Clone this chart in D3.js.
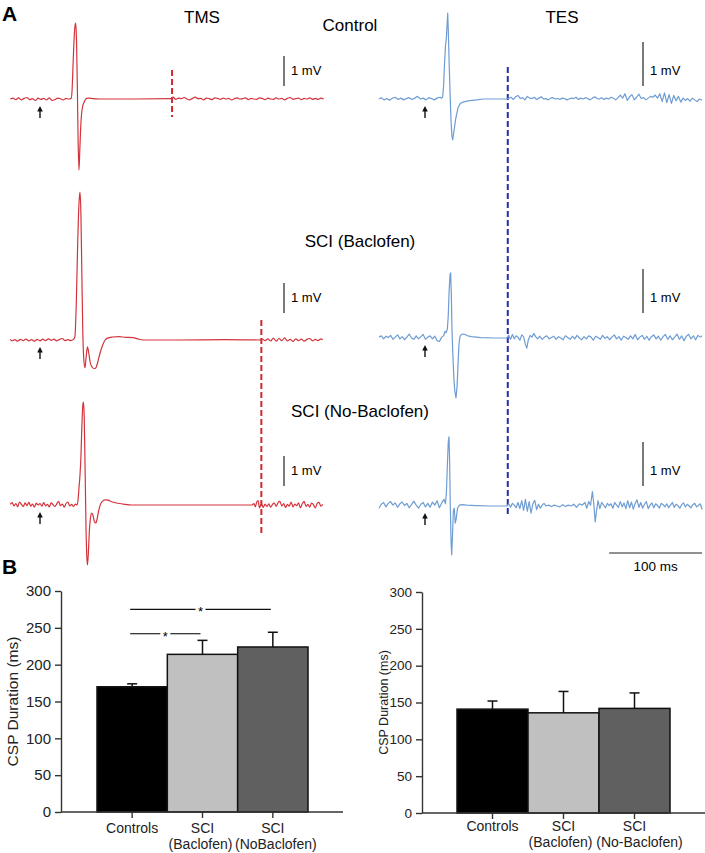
<!DOCTYPE html>
<html><head><meta charset="utf-8">
<script src="https://cdn.jsdelivr.net/npm/d3@7"></script>
<style>body{margin:0;background:#fff}svg{display:block;font-family:"Liberation Sans",Arial,sans-serif}</style>
</head><body><svg id="c" width="705" height="853"></svg>
<script>
// ---------- DATA ----------
// EMG traces: [time (ms, relative to stimulus), amplitude (mV)]
const tmsControl = [[-32,0],[-29,0.03],[-26,-0.02],[-23,0.04],[-20,-0.03],[-17,0.02],[-14,0.05],[-11,-0.02],[-8,0.01],[-5,-0.05],[-2,0.03],[1,-0.01],[4,0.02],[7,-0.03],[10,0.04],[13,-0.05],[16,-0.02],[19,0.03],[22,0.01],[25,-0.03],[28,0.02],[31,0],[33.5,0.02],
 [34.5,0.3],[35.5,1.1],[36.5,1.9],[37.5,2.4],[38.4,2.53],[39.3,1.9],[40.2,0.3],[41,-1.4],[41.9,-2.37],[42.8,-1.7],[44,-0.8],[45.5,-0.3],[47.5,-0.1],[50,0.02],[53,0.03],[57,0.01],[64,0],[100,0],[141,0.01],
 [143,0.06],[146,-0.01],[149,0.03],[152,0.01],[155,0.05],[158,0],[161,-0.03],[164,0.02],[167,0.06],[170,0.01],[173,0.02],[176,-0.03],[179,0.03],[182,0.01],[185,-0.02],[188,0.04],[191,0.02],[194,-0.01],[197,0.03],[200,0],[203,0.02],[206,-0.03],[209,0.01],[212,0.04],[215,0],[218,0.01],[221,0.04],[224,-0.02],[227,0.02],[230,0],[233,-0.01],[236,0.04],[239,0.02],[242,-0.02],[245,0.03],[248,0],[251,-0.01],[254,0.04],[257,0],[260,0.02],[263,-0.03],[266,0.02],[269,0.05],[272,-0.01],[275,0.01],[278,0.03],[281,-0.02],[284,0.02],[287,0],[290,0.04],[293,-0.01],[296,0.02],[299,-0.01],[302,0.03],[305,0]];

const tmsBaclofen = [[-32,0.02],[-30,-0.03],[-27,0.01],[-24,-0.04],[-21,0.02],[-18,-0.02],[-15,0.03],[-12,-0.03],[-9,0.01],[-6,-0.04],[-3,0.02],[0,-0.03],[3,0.03],[6,-0.02],[9,0.04],[12,-0.01],[15,0.03],[18,-0.03],[21,0.02],[24,0.05],[27,-0.02],[30,0.01],[33,-0.02],[36,0.02],
 [37.5,0.1],[39,1.2],[40.5,3.2],[42,4.6],[43,4.93],[44,4.2],[45,2.2],[46,0.3],[47,-0.6],[48.4,-0.93],[49.5,-0.6],[51,-0.23],[52.5,-0.45],[54,-0.75],[56,-0.9],[58,-0.95],[60,-0.93],[62,-0.75],[64,-0.5],[67,-0.2],[70,0],[74,0.08],[78,0.1],[85,0.11],[92,0.09],[100,0.08],[105,0.04],[111,0],[150,0],[200,0.01],[236,0],
 [239,0.03],[242,-0.02],[245,0.04],[248,-0.03],[251,0.06],[254,-0.04],[257,0.05],[260,-0.02],[263,0.07],[266,-0.03],[269,0.02],[272,-0.05],[275,0.04],[278,-0.02],[281,0.03],[284,-0.04],[287,0.02],[290,0.05],[293,-0.03],[296,0.02],[299,-0.02],[302,0.04],[304,0.01]];

const tmsNoBaclofen = [[-32,0.02],[-30,0.08],[-28,-0.03],[-26,0.05],[-24,-0.06],[-22,0.1],[-20,0.02],[-18,-0.05],[-16,0.07],[-14,-0.02],[-12,0.09],[-10,-0.04],[-8,0.03],[-6,-0.07],[-4,0.06],[-2,0],[0,0.05],[2,-0.04],[4,0.08],[6,-0.03],[8,0.02],[10,-0.06],[12,0.07],[14,0.01],[16,-0.05],[18,0.04],[20,0.12],[22,-0.02],[24,0.03],[26,-0.07],[28,0.05],[30,0.1],[32,-0.03],[34,0.02],[36,-0.05],[38,0.03],[40,0],
 [41,0.2],[42,0.6],[43,1.0],[44,1.6],[45,2.6],[46,3.3],[46.7,3.43],[47.5,3.0],[48.5,1.2],[49.5,-0.8],[50.3,-1.7],[51,-2.0],[52,-1.6],[53,-0.9],[54,-0.5],[55.6,-0.27],[57,-0.35],[58.5,-0.55],[60,-0.6],[61.5,-0.45],[63,-0.2],[65,0.02],[67,0.12],[70,0.17],[73,0.16],[78,0.1],[85,0.05],[92,0.02],[98,0],[150,0],[200,0],[228,0],
 [230,0.05],[231.5,-0.06],[233,0.1],[234.5,0.15],[236,-0.1],[238,0.05],[240,-0.08],[242,0.03],[244,-0.05],[246,0.04],[248,-0.07],[250,0.02],[252,0.06],[254,-0.04],[256,0.08],[258,0.12],[260,-0.03],[262,0.05],[264,-0.08],[266,0.02],[268,-0.04],[270,0.1],[272,-0.06],[274,0.03],[276,-0.02],[278,0.07],[280,-0.09],[282,0.04],[284,0.12],[286,-0.05],[288,0.02],[290,-0.07],[292,0.06],[294,0.01],[296,-0.1],[298,0.05],[300,0.09],[302,-0.04],[304,0.02]];

const tesControl = [[-49.5,0],[-47,0.03],[-44,-0.02],[-41,0.01],[-38,-0.03],[-35,0.02],[-32,0.04],[-29,-0.01],[-26,0.02],[-23,-0.02],[-20,0.01],[-17,0.03],[-14,-0.01],[-11,0.02],[-8,0.06],[-5,0],[-2,0.02],[1,-0.02],[4,0.03],[7,0.01],[10,-0.02],[13,0.02],[16,0.04],[18,0.02],
 [19,0.05],[20,0.3],[21,0.8],[22,1.2],[23,1.4],[23.8,1.7],[24.4,1.95],[25,1.6],[26,0.8],[27,0.1],[28,-0.5],[29,-0.85],[29.8,-0.93],[31,-0.75],[33,-0.45],[35.5,-0.2],[38,-0.1],[41,-0.07],[45,-0.05],[50,-0.03],[56,-0.02],[62,0],[75,0],[88,0],
 [90,0.02],[92.5,0.04],[95,-0.01],[97.5,0.05],[100,0.08],[102.5,0.01],[105,0.03],[107.5,-0.02],[110,0.06],[112.5,0.02],[115,0.01],[117.5,0.04],[120,-0.01],[122.5,0.02],[125,0.05],[127.5,0],[130,0.01],[132.5,-0.02],[135,0.02],[137.5,0.03],[140,0],[142.5,0.01],[145,-0.01],[147.5,0.02],[150,0.01],[152.5,-0.02],[155,0],[157.5,0.02],[160,0.01],[162.5,0.04],[165,-0.01],[167.5,0.02],[170,0],[172.5,0.03],[175,0.01],[177.5,-0.02],[180,0.02],[182.5,0.05],[185,0.01],[187.5,0],[190,0.03],[192.5,-0.01],[195,0.02],[197.5,0],[200,0.04],[202.5,0.02],[205,-0.02],[207.5,0.03],[210,0.09],[212.5,0.02],[215,0.12],[217.5,-0.03],[220,0.05],[222.5,0.1],[225,-0.02],[227.5,0.04],[230,0.11],[232.5,0.01],[235,0.03],[237.5,-0.02],[240,0.02],[242.5,0.06],[245,0.04],[247.5,0.09],[250,0.02],[252.5,0.12],[255,-0.06],[257.5,0.14],[260,-0.08],[262.5,0.1],[265,-0.1],[267.5,0.08],[270,-0.04],[272.5,0.06],[275,-0.07],[277.5,0.02],[280,-0.03],[282.5,0.01],[285,-0.05],[287.5,0.02],[290,-0.02],[292.5,-0.06],[295,0],[298,-0.03]];

const tesBaclofen = [[-49.5,0.02],[-47,0.05],[-44.5,-0.02],[-42,0.04],[-39.5,0.01],[-37,0.06],[-34.5,-0.03],[-32,0.02],[-29.5,0.07],[-27,-0.02],[-24.5,0.03],[-22,-0.04],[-19.5,0.02],[-17,0.09],[-14.5,0],[-12,-0.03],[-9.5,0.05],[-7,-0.02],[-4.5,0.03],[-2,0.08],[0.5,-0.03],[3,0.02],[5.5,0.05],[8,-0.02],[10.5,0.04],[13,-0.06],[15.5,-0.08],[18,0.02],[20,0.05],[21.5,0.15],
 [22.5,0.12],[24,0.2],[25,0.5],[26,1.1],[27,1.45],[27.6,1.48],[28.3,1.0],[29,0.2],[30,-0.4],[31,-0.9],[32,-1.2],[33.3,-1.36],[34.5,-1.1],[35.5,-0.6],[36.5,-0.15],[37.6,0.03],[39,0.08],[41,0.09],[43,0.08],[46,0.05],[50,0.03],[60,0.01],[75,0],[88,0],
 [90,0.06],[92,-0.03],[94,0.08],[96,-0.02],[98,0.05],[100,0.02],[102,-0.05],[104,0.07],[106,0.03],[108,-0.15],[109.5,-0.23],[111,-0.05],[113,0.06],[115,0.02],[117,0.1],[119,0.03],[121,-0.02],[123.5,0.04],[126,-0.03],[128.5,0.02],[131,0.05],[133.5,-0.02],[136,0.01],[138.5,0.04],[141,-0.03],[143.5,0.03],[146,0],[148.5,-0.04],[151,0.05],[153.5,0.01],[156,-0.03],[158.5,0.04],[161,-0.02],[163.5,0.06],[166,0],[168.5,-0.04],[171,0.03],[173.5,-0.02],[176,0.05],[178.5,0.02],[181,-0.05],[183.5,0.04],[186,0.01],[188.5,-0.03],[191,0.06],[193.5,-0.01],[196,0.03],[198.5,-0.04],[201,0.02],[203.5,0.07],[206,-0.02],[208.5,0.03],[211,-0.05],[213.5,0.04],[216,0.01],[218.5,-0.03],[221,0.05],[223.5,-0.02],[226,0.08],[228.5,-0.04],[231,0.02],[233.5,0.06],[236,-0.03],[238.5,0.04],[241,-0.05],[243.5,0.03],[246,0.07],[248.5,-0.02],[251,0.04],[253.5,-0.05],[256,0.03],[258.5,0.08],[261,-0.03],[263.5,0.05],[266,-0.04],[268.5,0.02],[271,0.09],[273.5,-0.03],[276,0.05],[278.5,-0.06],[281,0.04],[283.5,0.08],[286,-0.02],[288.5,0.05],[291,-0.04],[293.5,0.06],[296,0.02],[298,0.05]];

const tesNoBaclofen = [[-49.5,-0.05],[-47,0.04],[-44.5,0.08],[-42,-0.02],[-39.5,0.06],[-37,0.1],[-34.5,0.02],[-32,0.07],[-29.5,-0.03],[-27,0.05],[-24.5,0.09],[-22,0.01],[-19.5,0.06],[-17,-0.04],[-14.5,0.03],[-12,0.11],[-9.5,0.02],[-7,-0.05],[-4.5,0.04],[-2,0.08],[0.5,-0.02],[3,0.06],[5.5,-0.03],[8,0.09],[10.5,0.02],[13,0.12],[15.5,-0.04],[18,0.07],[20.5,0.15],[22,0.05],
 [23,0.3],[24,0.9],[25,1.45],[25.8,1.57],[26.5,1.0],[27.2,0],[28,-0.8],[28.7,-1.11],[29.5,-0.7],[30.5,-0.1],[31.5,-0.05],[32.5,-0.39],[33.5,-0.3],[35,-0.05],[37,0.02],[40,0.03],[45,0.02],[55,0.01],[70,0],[88,0],
 [90,0.05],[92,-0.03],[94,0.06],[96,0.02],[98,-0.04],[100,0.08],[102,-0.06],[104,0.12],[106,-0.1],[108,0.15],[110,-0.12],[112,0.1],[114,-0.16],[116,0.05],[118,0.13],[120,-0.08],[122,0.04],[124,-0.05],[126,0.02],[128,0.06],[130,0],[133,0.02],[136,-0.01],[139,0.02],[142,0],[145,-0.02],[148,0.03],[151,-0.01],[154,0.02],[157,0],[160,0.04],[163,-0.03],[166,0.05],[169,0.02],[172,0.08],[174,-0.05],[176,0.1],[178,0.02],[180,0.33],[181.5,0.05],[183,-0.36],[184.5,-0.1],[186,0.12],[188,-0.06],[190,0.08],[192,0.02],[194,-0.04],[196,0.06],[198,0.01],[200,0.05],[202,-0.05],[204,0.08],[206,0.02],[208,-0.03],[210,0.1],[212,-0.02],[214,0.07],[216,-0.06],[218,0.12],[220,-0.04],[222,0.09],[224,-0.07],[226,0.06],[228,0.14],[230,-0.03],[232,0.08],[234,-0.05],[236,0.04],[238,0.1],[240,-0.06],[242,0.02],[244,0.07],[246,-0.04],[248,0.05],[250,0.01],[252,-0.05],[254,0.06],[256,0.03],[258,-0.02],[260,0.05],[262,-0.04],[264,0.02],[266,0.08],[268,-0.03],[270,0.04],[272,0.01],[274,-0.05],[276,0.03],[278,0.07],[280,-0.02],[282,0.04],[284,0],[286,-0.04],[288,0.03],[290,0.06],[292,-0.02],[294,0.01],[296,0.05],[298,-0.08]];

const rowNames = ["Control", "SCI (Baclofen)", "SCI (No-Baclofen)"];
const tmsCspEnd = [142, 238];   // ms: control, SCI
const tesCspEnd = [89];         // ms
const scaleBarMs = [198, 298];  // 100 ms bar

// bar charts
const categories = ["Controls", "SCI (Baclofen)", "SCI (NoBaclofen)"];
const catLabelsTMS = [["Controls"], ["SCI", "(Baclofen)"], ["SCI", "(NoBaclofen)"]];
const catLabelsTES = [["Controls"], ["SCI", "(Baclofen)"], ["SCI", "(No-Baclofen)"]];
const tmsCspMean = [170, 214, 224];
const tmsCspErr  = [4, 19, 20];
const tesCspMean = [141, 136, 142];
const tesCspErr  = [11, 29, 21];
const yTicks = [0, 50, 100, 150, 200, 250, 300];
const tmsSig = [[0, 1, 242], [0, 2, 275]];  // [from, to, level ms]

// ---------- DRAW ----------
const svg = d3.select("#c");
const RED = "#d3343c", RED_D = "#cf2b2f", BLUE = "#6e9dd3", BLUE_D = "#2430a6";
const barFill = ["#000000", "#c0c0c0", "#606060"];

svg.append("text").attr("x", 2).attr("y", 21).attr("font-size", 21).attr("font-weight", "bold").text("A");
svg.append("text").attr("x", 2).attr("y", 574).attr("font-size", 21).attr("font-weight", "bold").text("B");

const xTMS = d3.scaleLinear().domain([0, 100]).range([40, 133]);
const xTES = d3.scaleLinear().domain([0, 100]).range([425, 518]);
const tmsBase = [99, 340, 505], tesBase = [99, 338, 506];
const yTMS = tmsBase.map(b => d3.scaleLinear().domain([0, 1]).range([b, b - 30]));
const yTES = tesBase.map(b => d3.scaleLinear().domain([0, 1]).range([b, b - 44]));

svg.append("text").attr("x", 202).attr("y", 23).attr("text-anchor", "middle").attr("font-size", 17).text("TMS");
svg.append("text").attr("x", 562).attr("y", 23).attr("text-anchor", "middle").attr("font-size", 17).text("TES");
const nameX = [350, 360, 360], nameY = [31, 247, 417];
rowNames.forEach((n, i) => svg.append("text").attr("x", nameX[i]).attr("y", nameY[i]).attr("text-anchor", "middle").attr("font-size", 17).text(n));

// dashed CSP markers (drawn under traces)
const tmsMarkY = [[70, 117], [320, 535]];
tmsCspEnd.forEach((t, i) => svg.append("line").attr("x1", xTMS(t)).attr("x2", xTMS(t)).attr("y1", tmsMarkY[i][0]).attr("y2", tmsMarkY[i][1])
  .attr("stroke", RED_D).attr("stroke-width", 2).attr("stroke-dasharray", "6,3"));
tesCspEnd.forEach(t => svg.append("line").attr("x1", xTES(t)).attr("x2", xTES(t)).attr("y1", 67).attr("y2", 517)
  .attr("stroke", BLUE_D).attr("stroke-width", 2).attr("stroke-dasharray", "6,3"));

const tmsTraces = [tmsControl, tmsBaclofen, tmsNoBaclofen];
const tesTraces = [tesControl, tesBaclofen, tesNoBaclofen];
tmsTraces.forEach((d, i) => svg.append("path")
  .attr("d", d3.line().x(p => xTMS(p[0])).y(p => yTMS[i](p[1])).curve(d3.curveMonotoneX)(d))
  .attr("fill", "none").attr("stroke", RED).attr("stroke-width", 1.2).attr("stroke-linejoin", "round"));
tesTraces.forEach((d, i) => svg.append("path")
  .attr("d", d3.line().x(p => xTES(p[0])).y(p => yTES[i](p[1])).curve(d3.curveLinear)(d))
  .attr("fill", "none").attr("stroke", BLUE).attr("stroke-width", 1.2).attr("stroke-linejoin", "round"));

// stimulus arrows
function arrow(x, base) {
  svg.append("line").attr("x1", x).attr("x2", x).attr("y1", base + 19).attr("y2", base + 10).attr("stroke", "#111").attr("stroke-width", 1.4);
  svg.append("path").attr("d", `M${x - 2.8},${base + 12.5}L${x},${base + 7}L${x + 2.8},${base + 12.5}Z`).attr("fill", "#111");
}
tmsBase.forEach((b, i) => arrow(xTMS(0), b));
tesBase.forEach((b, i) => arrow(xTES(0), b));

// 1 mV scale bars
const tmsBarBottom = [86, 313, 486], tesBarBottom = [86, 313, 486];
function mvBar(x, bottom, yS) {
  const len = yS(0) - yS(1);
  svg.append("line").attr("x1", x).attr("x2", x).attr("y1", bottom).attr("y2", bottom - len).attr("stroke", "#222").attr("stroke-width", 1.2);
  svg.append("text").attr("x", x + 7).attr("y", bottom - 11).attr("font-size", 13).text("1 mV");
}
tmsBarBottom.forEach((b, i) => mvBar(284, b, yTMS[i]));
tesBarBottom.forEach((b, i) => mvBar(643, b, yTES[i]));

// 100 ms scale bar
svg.append("line").attr("x1", xTES(scaleBarMs[0])).attr("x2", xTES(scaleBarMs[1])).attr("y1", 553).attr("y2", 553).attr("stroke", "#222").attr("stroke-width", 1.2);
svg.append("text").attr("x", xTES((scaleBarMs[0] + scaleBarMs[1]) / 2)).attr("y", 571).attr("text-anchor", "middle").attr("font-size", 13.5).text("100 ms");

// ---------- bar charts ----------
function barChart(o) {
  const y = d3.scaleLinear().domain([0, 300]).range([o.y0, o.y300]);
  const x = d3.scaleBand().domain(categories).range(o.band).padding(0);
  const g = svg.append("g");
  g.selectAll("rect.b").data(o.means).join("rect")
    .attr("x", (d, i) => x(categories[i])).attr("width", x.bandwidth())
    .attr("y", d => y(d)).attr("height", d => y(0) - y(d))
    .attr("fill", (d, i) => barFill[i]).attr("stroke", "#111").attr("stroke-width", 1.5);
  o.means.forEach((m, i) => {
    const cx = x(categories[i]) + x.bandwidth() / 2;
    g.append("line").attr("x1", cx).attr("x2", cx).attr("y1", y(m)).attr("y2", y(m + o.errs[i])).attr("stroke", "#111").attr("stroke-width", 1.5);
    g.append("line").attr("x1", cx - 5).attr("x2", cx + 5).attr("y1", y(m + o.errs[i])).attr("y2", y(m + o.errs[i])).attr("stroke", "#111").attr("stroke-width", 1.5);
  });
  const ay = g.append("g").attr("transform", `translate(${o.axisX},0)`)
    .call(d3.axisLeft(y).tickValues(yTicks).tickSize(6).tickSizeOuter(0).tickPadding(4));
  ay.selectAll("text").attr("font-size", o.tickFont).attr("fill", "#222").attr("font-family", '"Liberation Sans", Arial, sans-serif');
  ay.selectAll("line,path").attr("stroke", "#333").attr("stroke-width", 1.4);
  g.append("line").attr("x1", o.axisX).attr("x2", o.axisEnd).attr("y1", y(0)).attr("y2", y(0)).attr("stroke", "#333").attr("stroke-width", 1.4);
  const ax = g.append("g").attr("transform", `translate(0,${y(0)})`)
    .call(d3.axisBottom(x).tickSize(6).tickSizeOuter(0).tickFormat(""));
  ax.select(".domain").remove();
  ax.selectAll("line").attr("stroke", "#333").attr("stroke-width", 1.4);
  o.labels.forEach((lines, i) => {
    const cx = x(categories[i]) + x.bandwidth() / 2;
    const t = g.append("text").attr("text-anchor", "middle").attr("font-size", 14).attr("fill", "#222");
    lines.forEach((s, k) => t.append("tspan").attr("x", cx + (k ? o.line2dx[i] : 0)).attr("y", o.labY + k * 16).text(s));
  });
  g.append("text").attr("transform", `translate(${o.ylabX},${(o.y0 + o.y300) / 2}) rotate(-90)`)
    .attr("text-anchor", "middle").attr("font-size", o.ylabFont).attr("fill", "#222").text("CSP Duration (ms)");
  (o.sig || []).forEach(([a, b, lv]) => {
    const x1 = x(categories[a]) + x.bandwidth() / 2 - 2, x2 = x(categories[b]) + x.bandwidth() / 2 - 2;
    const mid = (x1 + x2) / 2, yy = y(lv);
    g.append("line").attr("x1", x1).attr("x2", mid - 5).attr("y1", yy).attr("y2", yy).attr("stroke", "#111").attr("stroke-width", 1.1);
    g.append("line").attr("x1", mid + 5).attr("x2", x2).attr("y1", yy).attr("y2", yy).attr("stroke", "#111").attr("stroke-width", 1.1);
    g.append("text").attr("x", mid).attr("y", yy + 7).attr("text-anchor", "middle").attr("font-size", 13).text("*");
  });
}
barChart({ y0: 812, y300: 591, band: [97, 308], axisX: 61, axisEnd: 343, means: tmsCspMean, errs: tmsCspErr,
  labels: catLabelsTMS, line2dx: [0, -2, 3], labY: 833, tickFont: 15, ylabX: 18, ylabFont: 15.5, sig: tmsSig });
barChart({ y0: 813, y300: 592, band: [457, 670], axisX: 422, axisEnd: 705, means: tesCspMean, errs: tesCspErr,
  labels: catLabelsTES, line2dx: [0, -3, 5], labY: 831, tickFont: 13.5, ylabX: 388, ylabFont: 12.5 });
</script></body></html>
